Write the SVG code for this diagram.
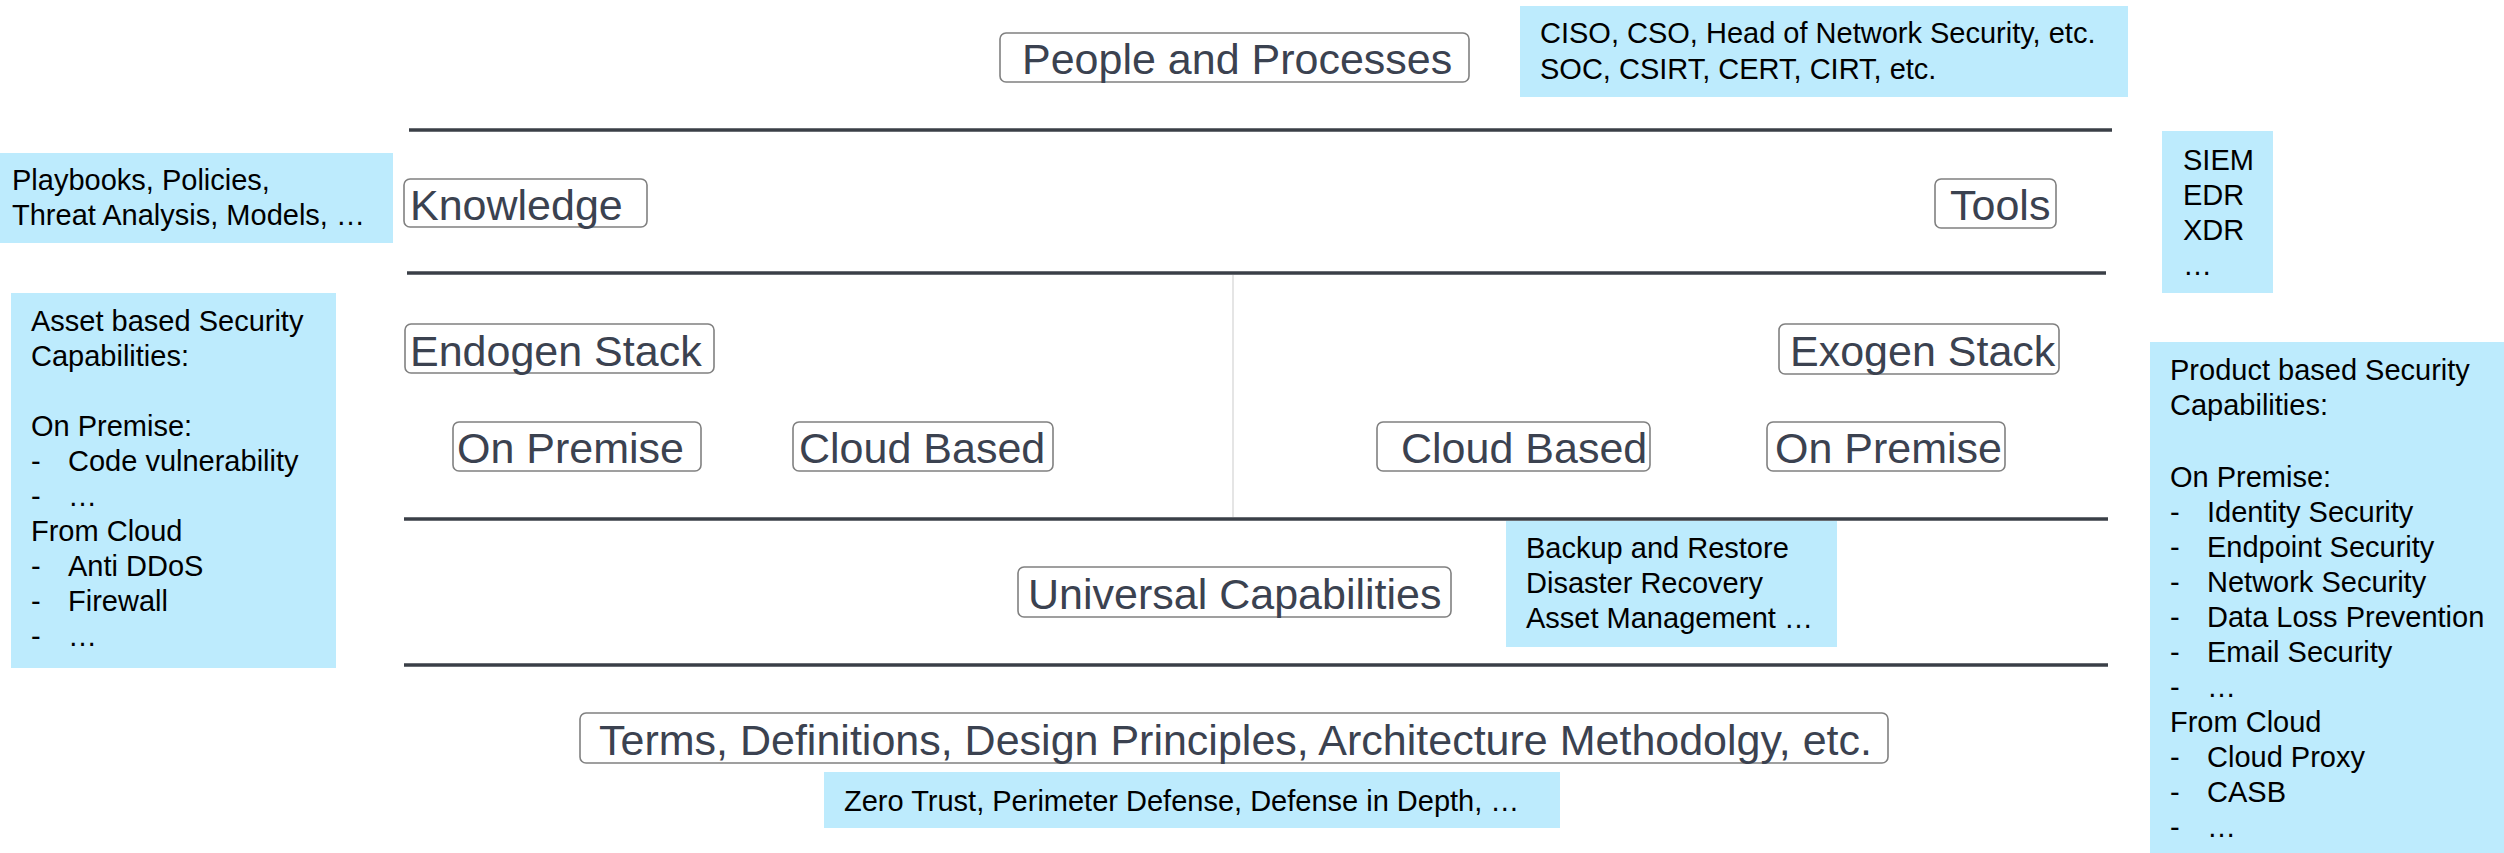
<svg xmlns="http://www.w3.org/2000/svg" width="2504" height="853" viewBox="0 0 2504 853">
  <style>
    .lbl rect { fill: #ffffff; stroke: #808080; stroke-width: 1.6; }
    .lbl text { font-family: "Liberation Sans", Arial, sans-serif; font-size: 43px; fill: #3b4250; }
    .note rect { fill: #bdebfd; stroke: none; }
    .note text { font-family: "Liberation Sans", Arial, sans-serif; font-size: 29px; fill: #000000; }
    .sep { stroke: #3a3f47; stroke-width: 3.5; fill: none; }
    .div { stroke: #d4d4d4; stroke-width: 1.2; fill: none; }
  </style>

  <!-- layer separators -->
  <g id="connectors">
    <line class="sep" x1="409" y1="130" x2="2112" y2="130"/>
    <line class="sep" x1="407" y1="273" x2="2106" y2="273"/>
    <line class="sep" x1="404" y1="519" x2="2108" y2="519"/>
    <line class="sep" x1="404" y1="665" x2="2108" y2="665"/>
    <line class="div" x1="1233" y1="275" x2="1233" y2="517"/>
  </g>

  <!-- top layer -->
  <g id="people-processes" class="lbl">
    <rect x="1000" y="33" width="469" height="49" rx="6"/>
    <text x="1022" y="74">People and Processes</text>
  </g>
  <g id="roles-note" class="note">
    <rect x="1520" y="6" width="608" height="91"/>
    <text x="1540" y="43">CISO, CSO, Head of Network Security, etc.</text>
    <text x="1540" y="79">SOC, CSIRT, CERT, CIRT, etc.</text>
  </g>

  <!-- knowledge / tools layer -->
  <g id="knowledge-note" class="note">
    <rect x="0" y="153" width="393" height="90"/>
    <text x="12" y="190">Playbooks, Policies,</text>
    <text x="12" y="225">Threat Analysis, Models, …</text>
  </g>
  <g id="knowledge" class="lbl">
    <rect x="404" y="179" width="243" height="48" rx="6"/>
    <text x="410" y="220">Knowledge</text>
  </g>
  <g id="tools" class="lbl">
    <rect x="1935" y="179" width="121" height="49" rx="6"/>
    <text x="1950" y="220">Tools</text>
  </g>
  <g id="tools-note" class="note">
    <rect x="2162" y="131" width="111" height="162"/>
    <text x="2183" y="170">SIEM</text>
    <text x="2183" y="205">EDR</text>
    <text x="2183" y="240">XDR</text>
    <text x="2183" y="275">…</text>
  </g>

  <!-- stacks layer -->
  <g id="asset-note" class="note">
    <rect x="11" y="293" width="325" height="375"/>
    <text x="31" y="331">Asset based Security</text>
    <text x="31" y="366">Capabilities:</text>
    <text x="31" y="436">On Premise:</text>
    <text x="31" y="471">-</text><text x="68" y="471">Code vulnerability</text>
    <text x="31" y="506">-</text><text x="68" y="506">…</text>
    <text x="31" y="541">From Cloud</text>
    <text x="31" y="576">-</text><text x="68" y="576">Anti DDoS</text>
    <text x="31" y="611">-</text><text x="68" y="611">Firewall</text>
    <text x="31" y="646">-</text><text x="68" y="646">…</text>
  </g>
  <g id="endogen-stack" class="lbl">
    <rect x="405" y="324" width="309" height="49" rx="6"/>
    <text x="410" y="366">Endogen Stack</text>
  </g>
  <g id="endogen-on-premise" class="lbl">
    <rect x="453" y="422" width="248" height="49" rx="6"/>
    <text x="457" y="463">On Premise</text>
  </g>
  <g id="endogen-cloud-based" class="lbl">
    <rect x="793" y="422" width="260" height="49" rx="6"/>
    <text x="799" y="463">Cloud Based</text>
  </g>
  <g id="exogen-stack" class="lbl">
    <rect x="1779" y="324" width="280" height="50" rx="6"/>
    <text x="1790" y="366">Exogen Stack</text>
  </g>
  <g id="exogen-cloud-based" class="lbl">
    <rect x="1377" y="422" width="273" height="49" rx="6"/>
    <text x="1401" y="463">Cloud Based</text>
  </g>
  <g id="exogen-on-premise" class="lbl">
    <rect x="1767" y="422" width="238" height="49" rx="6"/>
    <text x="1775" y="463">On Premise</text>
  </g>
  <g id="product-note" class="note">
    <rect x="2150" y="342" width="354" height="511"/>
    <text x="2170" y="380">Product based Security</text>
    <text x="2170" y="415">Capabilities:</text>
    <text x="2170" y="487">On Premise:</text>
    <text x="2170" y="522">-</text><text x="2207" y="522">Identity Security</text>
    <text x="2170" y="557">-</text><text x="2207" y="557">Endpoint Security</text>
    <text x="2170" y="592">-</text><text x="2207" y="592">Network Security</text>
    <text x="2170" y="627">-</text><text x="2207" y="627">Data Loss Prevention</text>
    <text x="2170" y="662">-</text><text x="2207" y="662">Email Security</text>
    <text x="2170" y="697">-</text><text x="2207" y="697">…</text>
    <text x="2170" y="732">From Cloud</text>
    <text x="2170" y="767">-</text><text x="2207" y="767">Cloud Proxy</text>
    <text x="2170" y="802">-</text><text x="2207" y="802">CASB</text>
    <text x="2170" y="837">-</text><text x="2207" y="837">…</text>
  </g>

  <!-- universal layer -->
  <g id="universal-capabilities" class="lbl">
    <rect x="1018" y="567" width="433" height="50" rx="6"/>
    <text x="1028" y="609">Universal Capabilities</text>
  </g>
  <g id="universal-note" class="note">
    <rect x="1506" y="521" width="331" height="126"/>
    <text x="1526" y="558">Backup and Restore</text>
    <text x="1526" y="593">Disaster Recovery</text>
    <text x="1526" y="628">Asset Management …</text>
  </g>

  <!-- foundation layer -->
  <g id="foundations" class="lbl">
    <rect x="580" y="713" width="1308" height="50" rx="6"/>
    <text x="599" y="755">Terms, Definitions, Design Principles, Architecture Methodolgy, etc.</text>
  </g>
  <g id="foundations-note" class="note">
    <rect x="824" y="772" width="736" height="56"/>
    <text x="844" y="811">Zero Trust, Perimeter Defense, Defense in Depth, …</text>
  </g>
</svg>
